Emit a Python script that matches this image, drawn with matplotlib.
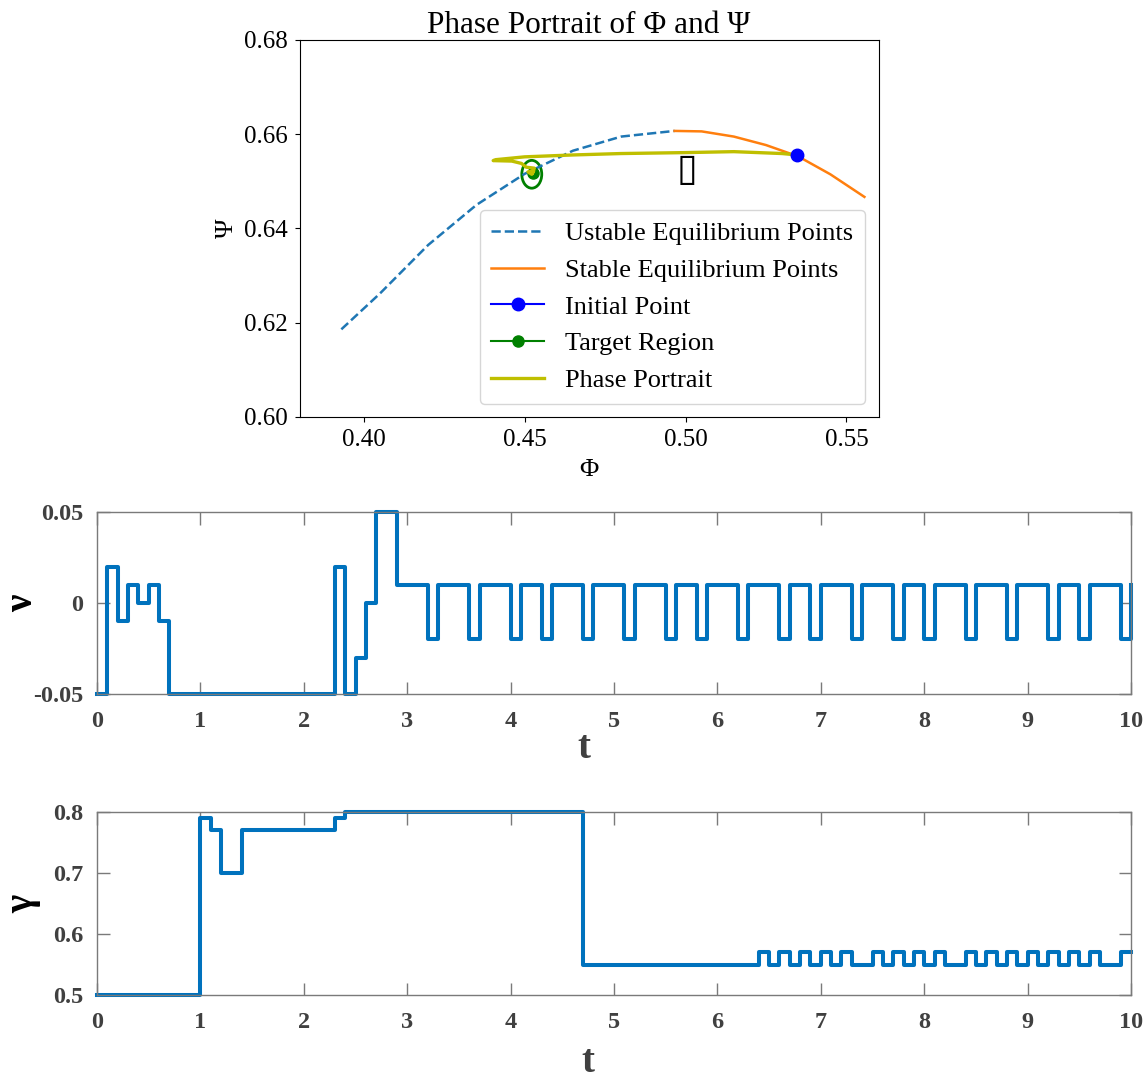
import numpy as np
import matplotlib
matplotlib.use('Agg')
import matplotlib.pyplot as plt
from matplotlib.patches import Ellipse

# phase portrait data
phi_unstable = [0.393, 0.405, 0.420, 0.435, 0.450, 0.465, 0.480, 0.4966]
psi_unstable = [0.6186, 0.6262, 0.6365, 0.6450, 0.6516, 0.6565, 0.6595, 0.6607]
phi_stable = [0.4966, 0.505, 0.515, 0.525, 0.535, 0.545, 0.5556]
psi_stable = [0.6607, 0.6606, 0.6595, 0.6577, 0.6553, 0.6515, 0.6467]
phi_init, psi_init = 0.5347, 0.6556
phi_target, psi_target = 0.4525, 0.6518
phi_traj = [0.5347, 0.530, 0.515, 0.500, 0.480, 0.465, 0.450, 0.441, 0.4402,
            0.446, 0.449, 0.4505, 0.4530, 0.4522, 0.4510, 0.4528, 0.4525]
psi_traj = [0.6556, 0.6559, 0.6563, 0.6561, 0.6559, 0.6556, 0.6552, 0.6546, 0.6544,
            0.6543, 0.6538, 0.6530, 0.6528, 0.6515, 0.6520, 0.6522, 0.6518]

# control signals (step breakpoints, value holds until next breakpoint)
t_nu = [0, 0.1, 0.2, 0.3, 0.4, 0.5, 0.6, 0.7, 2.3, 2.4, 2.5, 2.6, 2.7, 2.9,
        3.2, 3.3, 3.6, 3.7, 4.0, 4.1, 4.3, 4.4, 4.7, 4.8, 5.1, 5.2, 5.5, 5.6,
        5.8, 5.9, 6.2, 6.3, 6.6, 6.7, 6.9, 7.0, 7.3, 7.4, 7.7, 7.8, 8.0, 8.1,
        8.4, 8.5, 8.8, 8.9, 9.2, 9.3, 9.5, 9.6, 9.9, 10.0]
nu = [-0.05, 0.02, -0.01, 0.01, 0, 0.01, -0.01, -0.05, 0.02, -0.05, -0.03, 0, 0.05, 0.01,
      -0.02, 0.01, -0.02, 0.01, -0.02, 0.01, -0.02, 0.01, -0.02, 0.01, -0.02, 0.01, -0.02, 0.01,
      -0.02, 0.01, -0.02, 0.01, -0.02, 0.01, -0.02, 0.01, -0.02, 0.01, -0.02, 0.01, -0.02, 0.01,
      -0.02, 0.01, -0.02, 0.01, -0.02, 0.01, -0.02, 0.01, -0.02, 0.01]

t_gam = [0, 1.0, 1.1, 1.2, 1.4, 2.3, 2.4, 4.7,
         6.4, 6.5, 6.6, 6.7, 6.8, 6.9, 7.0, 7.1, 7.2, 7.3,
         7.5, 7.6, 7.7, 7.8, 7.9, 8.0, 8.1, 8.2,
         8.4, 8.5, 8.6, 8.7, 8.8, 8.9, 9.0, 9.1, 9.2, 9.3, 9.4, 9.5, 9.6, 9.7,
         9.9, 10.0]
gam = [0.5, 0.79, 0.77, 0.70, 0.77, 0.79, 0.80, 0.55,
       0.57, 0.55, 0.57, 0.55, 0.57, 0.55, 0.57, 0.55, 0.57, 0.55,
       0.57, 0.55, 0.57, 0.55, 0.57, 0.55, 0.57, 0.55,
       0.57, 0.55, 0.57, 0.55, 0.57, 0.55, 0.57, 0.55, 0.57, 0.55, 0.57, 0.55, 0.57, 0.55,
       0.57, 0.57]

fig = plt.figure(figsize=(11.48, 10.8), dpi=100)

# %% phase portrait
serif = 'Liberation Serif'
ax = fig.add_axes([0.2609, 0.6139, 0.5044, 0.3491])
ax.plot(phi_unstable, psi_unstable, '--', color='#1f77b4', lw=1.8,
        label='Ustable Equilibrium Points')
ax.plot(phi_stable, psi_stable, '-', color='#ff7f0e', lw=1.8,
        label='Stable Equilibrium Points')
ax.plot(phi_init, psi_init, 'o-', color='blue', ms=9, zorder=5, label='Initial Point')
ax.plot(phi_target, psi_target, 'o-', color='green', ms=8, label='Target Region')
ax.add_patch(Ellipse((phi_target - 0.0003, psi_target - 0.0003), 0.0062, 0.0059,
                     fill=False, edgecolor='green', lw=2))
ax.plot(phi_traj, psi_traj, '-', color='y', lw=2.4, zorder=4, label='Phase Portrait')
ax.text(0.5003, 0.6562, '\u25af', fontsize=27, ha='center', va='top',
        family='DejaVu Sans', color='black')

ax.set_xlim(0.38, 0.56)
ax.set_ylim(0.60, 0.68)
ax.set_xticks([0.40, 0.45, 0.50, 0.55])
ax.set_yticks([0.60, 0.62, 0.64, 0.66, 0.68])
ax.set_xticklabels(['0.40', '0.45', '0.50', '0.55'])
ax.set_yticklabels(['0.60', '0.62', '0.64', '0.66', '0.68'])
ax.tick_params(pad=5)
for lab in ax.get_xticklabels() + ax.get_yticklabels():
    lab.set_family(serif)
    lab.set_fontsize(18)
ax.set_xlabel('\u03a6', family=serif, fontsize=19, labelpad=6)
ax.set_ylabel('\u03a8', family=serif, fontsize=19)
ax.set_title('Phase Portrait of \u03a6 and \u03a8', family=serif, fontsize=22.5, pad=5)
ax.legend(loc='lower right', prop={'family': serif, 'size': 19},
          handlelength=2.0, labelspacing=0.5, borderpad=0.45)

# %% MATLAB-like step plots
mat_blue = '#0072BD'
edge = '#7a7a7a'
txt = '#404040'


def matlab_axes(rect):
    a = fig.add_axes(rect)
    for s in a.spines.values():
        s.set_color(edge)
        s.set_linewidth(1.0)
    a.tick_params(direction='in', length=9, width=1.0, color=edge,
                  top=True, right=True, labelsize=17.5, labelcolor=txt)
    a.tick_params(axis='x', pad=12)
    a.tick_params(axis='y', pad=10)
    return a


ax2 = matlab_axes([0.0845, 0.3574, 0.9007, 0.1685])
ax2.step(t_nu, nu, where='post', color=mat_blue, lw=2.9, clip_on=False)
ax2.set_xlim(0, 10)
ax2.set_ylim(-0.05, 0.05)
ax2.set_xticks(range(11))
ax2.set_yticks([-0.05, 0, 0.05])
ax2.set_yticklabels(['-0.05', '0', '0.05'])
ax2.set_xlabel('t', fontsize=28, fontweight='bold', family=serif, color=txt, va='center')
ax2.set_ylabel('\u03bd', fontsize=28, fontweight='bold', family=serif, color='black',
               va='center')
ax2.xaxis.set_label_coords(0.471, -0.297)
ax2.yaxis.set_label_coords(-0.072, 0.5)

ax3 = matlab_axes([0.0845, 0.0787, 0.9007, 0.1694])
ax3.step(t_gam, gam, where='post', color=mat_blue, lw=2.9, clip_on=False)
ax3.set_xlim(0, 10)
ax3.set_ylim(0.5, 0.8)
ax3.set_xticks(range(11))
ax3.set_yticks([0.5, 0.6, 0.7, 0.8])
ax3.set_yticklabels(['0.5', '0.6', '0.7', '0.8'])
ax3.set_xlabel('t', fontsize=28, fontweight='bold', family=serif, color=txt, va='center')
ax3.set_ylabel('\u03b3', fontsize=28, fontweight='bold', family=serif, color='black',
               va='center')
ax3.xaxis.set_label_coords(0.475, -0.37)
ax3.yaxis.set_label_coords(-0.072, 0.5)

for a in (ax2, ax3):
    for lab in a.get_xticklabels() + a.get_yticklabels():
        lab.set_family(serif)
        lab.set_fontweight('bold')

fig.savefig('out.png', dpi=100)
